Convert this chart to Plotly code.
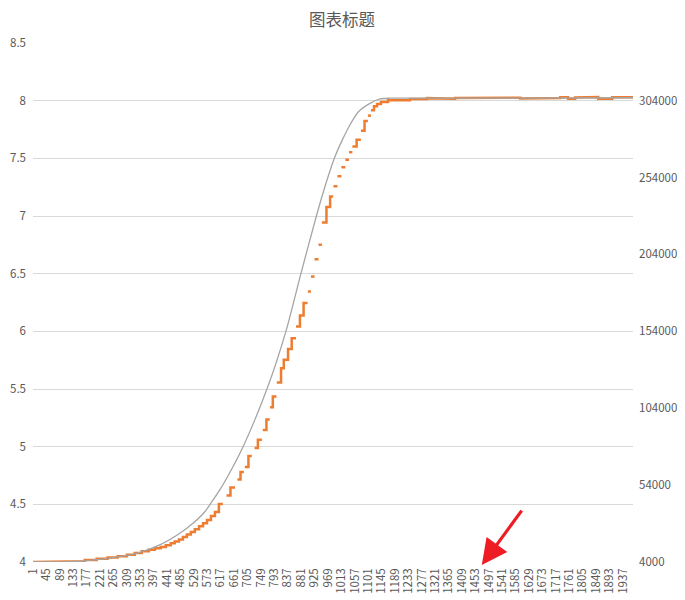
import plotly.graph_objects as go

# category labels shown on the x axis (every 44th point)
x_ticks = [1, 45, 89, 133, 177, 221, 265, 309, 353, 397, 441, 485, 529, 573, 617,
           661, 705, 749, 793, 837, 881, 925, 969, 1013, 1057, 1101, 1145, 1189,
           1233, 1277, 1321, 1365, 1409, 1453, 1497, 1541, 1585, 1629, 1673, 1717,
           1761, 1805, 1849, 1893, 1937]
right_ticks = [4000, 54000, 104000, 154000, 204000, 254000, 304000]

# grey series (right axis)
gray_x = [1, 99, 154, 210, 263, 319, 352, 417, 483, 526, 565, 588, 614, 637, 690, 769,
          831, 880, 931, 954, 990, 1015, 1041, 1069, 1107, 1140, 1173, 1370, 1970]
gray_y = [4000, 4100, 4500, 5600, 6900, 8700, 10200, 15100, 22700, 29200, 36700,
          43200, 50900, 58600, 78800, 116600, 154000, 191400, 229000, 244800, 266500,
          278000, 288200, 296800, 302200, 305100, 305600, 305600, 305900]

# orange series (left axis), read as flat steps: start, end, level, joined to next
orange_start = [1, 122, 171, 210, 246, 279, 309, 335, 358, 381, 401, 420, 437, 453,
                466, 480, 493, 506, 519, 532, 546, 559, 572, 585, 598, 611, 636, 649,
                672, 682, 696, 708, 728, 739, 755, 767, 779, 788, 801, 815, 824, 838,
                850, 864, 877, 889, 903, 913, 925, 938, 949, 964, 976, 987, 1000, 1013,
                1026, 1038, 1049, 1063, 1077, 1089, 1100, 1110, 1120, 1130, 1143, 1166,
                1238, 1294, 1363, 1386, 1534, 1600, 1626, 1731, 1757, 1780, 1830, 1856,
                1902, 1928]
orange_end = [122, 171, 210, 246, 279, 309, 335, 358, 381, 401, 420, 437, 453, 466,
              480, 493, 506, 519, 532, 546, 559, 572, 585, 598, 611, 624, 649, 664,
              682, 693, 708, 719, 739, 752, 767, 778, 788, 800, 815, 824, 838, 850,
              864, 877, 889, 902, 913, 925, 938, 949, 964, 976, 986, 1000, 1013, 1026,
              1038, 1049, 1063, 1077, 1089, 1100, 1110, 1120, 1130, 1143, 1166, 1238,
              1294, 1363, 1386, 1534, 1600, 1626, 1731, 1757, 1780, 1830, 1856, 1902,
              1928, 1970]
orange_level = [4.000, 4.006, 4.017, 4.028, 4.038, 4.049, 4.062, 4.078, 4.094, 4.107,
                4.119, 4.131, 4.146, 4.162, 4.178, 4.196, 4.217, 4.238, 4.260, 4.284,
                4.309, 4.336, 4.364, 4.399, 4.434, 4.503, 4.577, 4.646, 4.716, 4.781,
                4.824, 4.920, 4.989, 5.059, 5.145, 5.236, 5.341, 5.436, 5.557, 5.679,
                5.753, 5.846, 5.941, 6.042, 6.137, 6.245, 6.345, 6.475, 6.625, 6.751,
                6.944, 7.078, 7.170, 7.258, 7.345, 7.423, 7.488, 7.553, 7.603, 7.662,
                7.740, 7.824, 7.870, 7.916, 7.951, 7.971, 7.989, 8.003, 8.015, 8.022,
                8.016, 8.023, 8.026, 8.019, 8.024, 8.029, 8.017, 8.028, 8.032, 8.017,
                8.029, 8.030]
orange_joined = [1, 1, 1, 1, 1, 1, 1, 1, 1, 1, 1, 1, 1, 1, 1, 1, 1, 1, 1, 1, 1, 1, 1, 1,
                 1, 0, 1, 0, 1, 0, 1, 0, 1, 0, 1, 0, 1, 0, 1, 1, 1, 1, 0, 1, 1, 0, 0, 0,
                 0, 0, 1, 1, 0, 0, 0, 0, 0, 0, 1, 0, 1, 0, 0, 1, 1, 1, 1, 1, 1, 1, 1, 1,
                 1, 1, 1, 1, 1, 1, 1, 1, 1, 0]

ox, oy = [], []
for s, e, lv, j in zip(orange_start, orange_end, orange_level, orange_joined):
    ox += [s, e]
    oy += [lv, lv]
    if not j:
        ox.append(None)
        oy.append(None)

fig = go.Figure()
fig.add_trace(go.Scatter(x=gray_x, y=gray_y, mode='lines', yaxis='y2',
                         line=dict(color='#a5a5a5', width=1.3, shape='spline', smoothing=0.7)))
fig.add_trace(go.Scatter(x=ox, y=oy, mode='lines', connectgaps=False,
                         line=dict(color='#ed7d31', width=2.5)))

# page body adds an 8px offset, so the figure is 8px smaller each way
fig.update_layout(
    width=677, height=592,
    margin=dict(l=25, r=52, t=35, b=38, autoexpand=False),
    paper_bgcolor='white', plot_bgcolor='white',
    showlegend=False,
    font=dict(family='Noto Sans CJK SC', size=11.5, color='#595959'),
    title=dict(text='图表标题', x=0.4934, xref='container', y=0.98, yanchor='middle',
               font=dict(size=16.5, color='#595959')),
    xaxis=dict(range=[1, 1970], tickvals=x_ticks, ticktext=[str(t) for t in x_ticks],
               tickangle=-90, showgrid=False, zeroline=False, showline=False,
               ticks='', ticklabelstandoff=3, automargin=False),
    yaxis=dict(range=[4, 8.5], dtick=0.5, tick0=4, gridcolor='#d9d9d9', gridwidth=1,
               zeroline=False, showline=False, ticks='', ticklabelstandoff=6,
               automargin=False),
    yaxis2=dict(range=[4000, 341500], overlaying='y', side='right', tickvals=right_ticks,
                ticktext=[str(t) for t in right_ticks], showgrid=False, zeroline=False,
                showline=False, ticks='', ticklabelstandoff=5, automargin=False),
)

# chart border on the right side
fig.add_shape(type='line', xref='paper', yref='paper', x0=1.084, x1=1.084, y0=-0.2, y1=1.2,
              line=dict(color='#d9d9d9', width=1))

# red arrow pointing at the axis
fig.add_annotation(xref='paper', yref='paper', x=0.748, y=-0.006, ax=41, ay=-56,
                   text='', showarrow=True, arrowhead=2, arrowsize=1.6, arrowwidth=3.2,
                   arrowcolor='#ee1c25')

fig.write_html("out.html")
